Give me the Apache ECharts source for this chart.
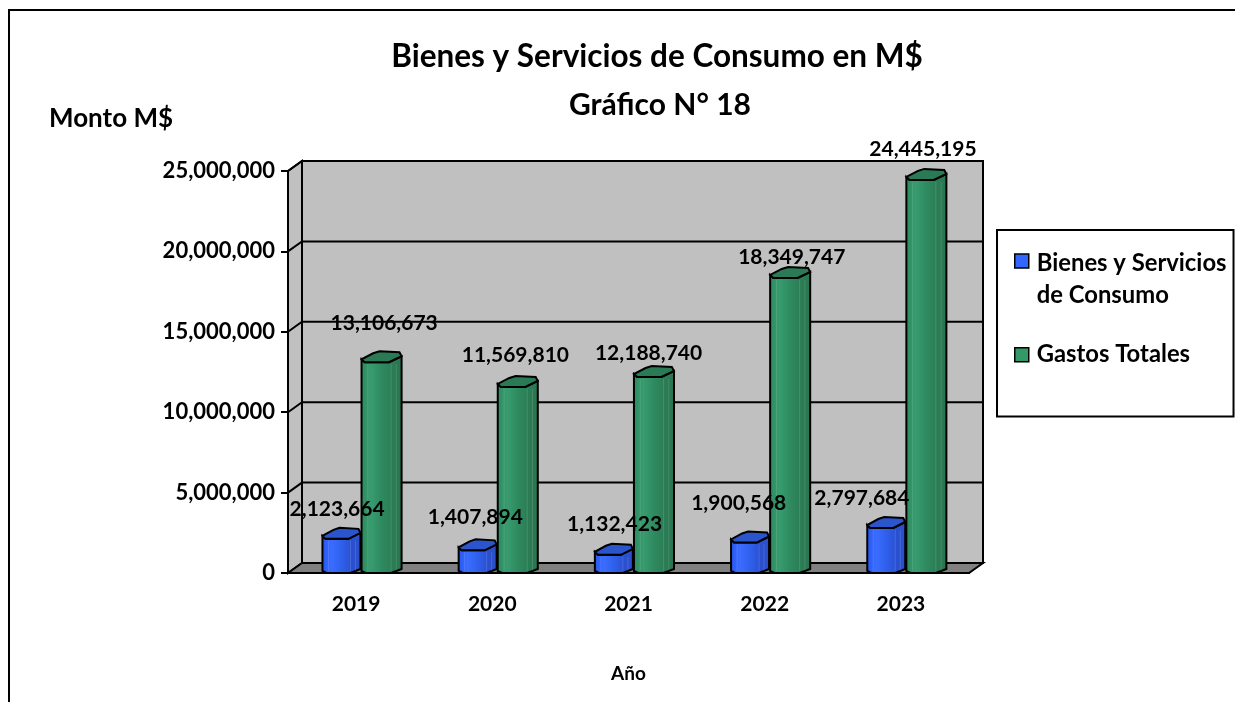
<!DOCTYPE html>
<html>
<head>
<meta charset="utf-8">
<script src="https://cdn.jsdelivr.net/npm/echarts@6/dist/echarts.min.js"></script>
<style>
html, body { margin: 0; padding: 0; background: #fff; }
#chart { width: 1235px; height: 702px; }
</style>
</head>
<body>
<div id="chart"></div>
<script>
const years = ['2019', '2020', '2021', '2022', '2023']
const bienes = [2123664, 1407894, 1132423, 1900568, 2797684]
const gastos = [13106673, 11569810, 12188740, 18349747, 24445195]
const yTicks = [0, 5000000, 10000000, 15000000, 20000000, 25000000]

// label nudges, the original has them dragged by hand
const bienesNudge = [[-4, -30], [-2, -33], [1, -31], [-11, -39], [-24, -30]]
const gastosNudge = [[3, -39], [-2, -32], [-5, -24], [2, -21], [-3, -31]]

const font = 'Lato'
const depth = [14, -10]
const blueColors = ['#2456ee', '#3a6cff', '#2f60ec', '#2a50d0', '#2c50c8']
const greenColors = ['#2c8a5e', '#379c6f', '#2f8a60', '#2b7d55', '#2a7450']

// square at the top of a tall box so it lines up with the first text line
const iconFirst = 'path://M0 0H14V14H0Z M0 50H0'
const iconSecond = 'path://M0 18H14V32H0Z M0 0H0 M0 50H0'

function cylinder(params, api, offset, ratio, colors, topColor) {
    const i = api.value(0)
    const band = api.size([1, 0])[0]
    const top = api.coord([i, api.value(1)])
    const bottom = api.coord([i, 0])
    const x = top[0] + band * offset
    const w = band * ratio
    const y = top[1]
    const b = bottom[1]
    const s = w / 38
    const rim = [[0, -3], [3 * s, 0], [26 * s, 0], [38 * s, -6]]
    const back = [[36 * s, -10], [17 * s, -11], [11 * s, -9]]
    const body = rim.map(p => [x + p[0], y + p[1]])
        .concat([[x + w, b - 4], [x + 28 * s, b], [x + 4 * s, b], [x, b - 2]])
    const lid = rim.concat(back).map(p => [x + p[0], y + p[1]])
    const ridge = function (at) {
        return {
            type: 'line',
            shape: { x1: x + at * s, y1: y + 2, x2: x + at * s, y2: b - 2 },
            style: { stroke: 'rgba(255,255,255,0.13)', lineWidth: 1 }
        }
    }
    return {
        type: 'group',
        children: [
            {
                type: 'polygon',
                shape: { points: body },
                style: {
                    fill: new echarts.graphic.LinearGradient(0, 0, 1, 0, colors.map((c, k) => ({ offset: k / 4, color: c }))),
                    stroke: '#000',
                    lineWidth: 2
                }
            },
            ridge(6), ridge(28), ridge(33),
            {
                type: 'polygon',
                shape: { points: lid },
                style: { fill: topColor, stroke: '#000', lineWidth: 2 }
            }
        ]
    }
}

function renderWall(params, api) {
    const tick = api.value(1)
    const band = api.size([1, 0])[0]
    const p = api.coord([0, tick])
    const left = p[0] - band / 2
    const right = left + band * years.length
    const y = p[1]
    const children = []
    if (params.dataIndex === 0) {
        const top = api.coord([0, 25000000])[1]
        children.push({
            type: 'polygon',
            shape: { points: [[left + depth[0], top + depth[1]], [right + depth[0], top + depth[1]], [right + depth[0], y + depth[1]], [left + depth[0], y + depth[1]]] },
            style: { fill: '#c0c0c0', stroke: '#000', lineWidth: 2 }
        })
        children.push({
            type: 'polygon',
            shape: { points: [[left, top], [left + depth[0], top + depth[1]], [left + depth[0], y + depth[1]], [left, y]] },
            style: { fill: '#c0c0c0', stroke: '#000', lineWidth: 2 }
        })
        children.push({
            type: 'polygon',
            shape: { points: [[left, y], [left + depth[0], y + depth[1]], [right + depth[0], y + depth[1]], [right, y]] },
            style: { fill: '#808080', stroke: '#000', lineWidth: 2 }
        })
    } else {
        children.push({
            type: 'polyline',
            shape: { points: [[left, y], [left + depth[0], y + depth[1]], [right + depth[0], y + depth[1]]] },
            style: { fill: 'none', stroke: '#000', lineWidth: 2 }
        })
    }
    return { type: 'group', children: children }
}

function renderLabel(nudge, shift) {
    return function (params, api) {
        const i = api.value(0)
        const band = api.size([1, 0])[0]
        const p = api.coord([i, api.value(1)])
        return {
            type: 'text',
            style: {
                x: p[0] + band * shift + nudge[i][0],
                y: p[1] + nudge[i][1],
                text: api.value(1).toLocaleString('en-US'),
                font: 'bold 21px ' + font,
                fill: '#000',
                align: 'center',
                verticalAlign: 'middle'
            }
        }
    }
}

const option = {
    animation: false,
    backgroundColor: '#fff',
    textStyle: { fontFamily: font },
    graphic: [{
        type: 'rect',
        shape: { x: 9, y: 10, width: 1300, height: 800 },
        style: { fill: 'none', stroke: '#000', lineWidth: 2 },
        z: 0
    }],
    title: [
        {
            text: 'Bienes y Servicios de Consumo en M$',
            left: 652, top: 36, textAlign: 'center',
            textStyle: { fontSize: 31.5, fontWeight: 'bold', color: '#000', fontFamily: font }
        },
        {
            text: 'Gráfico N° 18',
            left: 655, top: 85, textAlign: 'center',
            textStyle: { fontSize: 30, fontWeight: 'bold', color: '#000', fontFamily: font }
        },
        {
            text: 'Monto M$',
            left: 44, top: 101,
            textStyle: { fontSize: 26, fontWeight: 'bold', color: '#000', fontFamily: font }
        }
    ],
    legend: {
        orient: 'vertical',
        left: 997, top: 230,
        padding: [17, 7, 36, 17],
        itemWidth: 14, itemHeight: 50, itemGap: 18,
        borderColor: '#000', borderWidth: 2,
        backgroundColor: '#fff',
        data: [
            { name: 'Bienes y Servicios\nde Consumo', icon: iconFirst },
            { name: 'Gastos Totales', icon: iconSecond }
        ],
        textStyle: { fontSize: 23.8, fontWeight: 'bold', color: '#000', fontFamily: font, lineHeight: 32, padding: [0, 0, 0, 3] },
        itemStyle: { borderColor: '#000', borderWidth: 1.5 }
    },
    grid: { left: 288, top: 171, width: 681, height: 402 },
    xAxis: {
        type: 'category',
        data: years,
        z: 3,
        name: 'Año',
        nameLocation: 'middle',
        nameGap: 91,
        nameTextStyle: { fontSize: 19, fontWeight: 'bold', color: '#000', fontFamily: font },
        axisLine: { lineStyle: { color: '#000', width: 2 } },
        axisTick: { length: 7, lineStyle: { color: '#000', width: 2 } },
        axisLabel: { margin: 21, fontSize: 21, fontWeight: 'bold', color: '#000', fontFamily: font }
    },
    yAxis: {
        type: 'value',
        min: 0,
        max: 25000000,
        interval: 5000000,
        z: 3,
        splitLine: { show: false },
        axisLine: { show: true, lineStyle: { color: '#000', width: 2 } },
        axisTick: { show: true, length: 7, lineStyle: { color: '#000', width: 2 } },
        axisLabel: {
            margin: 13, fontSize: 22, fontWeight: 'bold', color: '#000', fontFamily: font,
            padding: [3, 0, 0, 0],
            formatter: v => v.toLocaleString('en-US')
        }
    },
    series: [
        {
            name: 'wall',
            type: 'custom',
            z: 1,
            silent: true,
            renderItem: renderWall,
            data: yTicks.map(t => [0, t])
        },
        {
            name: 'Bienes y Servicios\nde Consumo',
            type: 'custom',
            z: 4,
            itemStyle: { color: '#3366ff' },
            renderItem: (params, api) => cylinder(params, api, -0.247, 0.279, blueColors, '#2a55cc'),
            data: bienes.map((v, i) => [i, v])
        },
        {
            name: 'Gastos Totales',
            type: 'custom',
            z: 5,
            itemStyle: { color: '#339966' },
            renderItem: (params, api) => cylinder(params, api, 0.04, 0.294, greenColors, '#2a7a55'),
            data: gastos.map((v, i) => [i, v])
        },
        {
            name: 'bienesLabels',
            type: 'custom',
            z: 6,
            renderItem: renderLabel(bienesNudge, -0.11),
            data: bienes.map((v, i) => [i, v])
        },
        {
            name: 'gastosLabels',
            type: 'custom',
            z: 6,
            renderItem: renderLabel(gastosNudge, 0.184),
            data: gastos.map((v, i) => [i, v])
        }
    ]
}

const myChart = echarts.init(document.getElementById('chart'), null, { renderer: 'canvas' })
myChart.setOption(option)
</script>
</body>
</html>
